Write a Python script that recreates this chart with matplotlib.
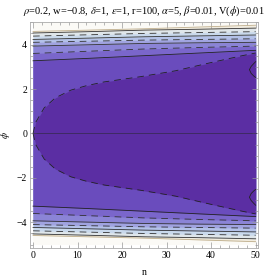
import numpy as np
import matplotlib
matplotlib.use("Agg")
import matplotlib.pyplot as plt
from matplotlib.ticker import MultipleLocator

plt.rcParams["font.family"] = ["Liberation Serif", "DejaVu Serif"]
plt.rcParams["mathtext.fontset"] = "stix"

# contour lines (upper half, mirrored below)
n_pts = [0, 12.5, 25, 37.5, 50]
line8 = [4.59, 4.65, 4.71, 4.79, 4.87]
line7 = [4.52, 4.58, 4.65, 4.69, 4.74]
line6 = [4.38, 4.44, 4.50, 4.54, 4.58]
line5 = [4.23, 4.29, 4.35, 4.39, 4.43]
line4 = [4.10, 4.15, 4.20, 4.23, 4.26]
line3 = [3.93, 3.99, 4.05, 4.08, 4.10]
line2 = [3.60, 3.70, 3.80, 3.87, 3.93]
line1 = [3.27, 3.38, 3.50, 3.62, 3.74]

# inner (parabola-like) contour
n_in = [0, 0.6, 2.5, 5, 8.5, 12, 16, 24, 32, 40, 47, 50]
phi_in = [0, 0.5, 1.15, 1.6, 1.95, 2.15, 2.32, 2.55, 2.82, 3.19, 3.5, 3.62]

# small closed contours touching the right edge
arc_n = [50, 49.6, 49.0, 48.6, 49.0, 49.6, 50]
arc_phi = [3.23, 3.15, 3.02, 2.87, 2.70, 2.58, 2.52]

lines = [line8, line7, line6, line5, line4, line3, line2, line1]
band_colors = ["#f1ecdf", "#dfe6ea", "#c9d9ec", "#b3c1e8", "#a0a3e0",
               "#8b84d6", "#7a66cb", "#6a4cbd"]
styles = ["-", "-", (0, (8, 6)), "-", (0, (8, 6)), "-", (0, (8, 6)), "-"]
line_cols = ["#bfae8c", "#333333", "#333333", "#333333", "#333333",
             "#333333", "#333333", "#222222"]
inner_color = "#5b2ea3"

fig = plt.figure(figsize=(2.77, 2.77), dpi=100)
ax = fig.add_axes([0.108, 0.105, 0.823, 0.816])

n_arr = np.array(n_pts)
ax.fill_between(n_arr, -5.0, 5.0, color="#fbfaf6", lw=0)
for ln, c in zip(lines, band_colors):
    y = np.array(ln)
    ax.fill_between(n_arr, -y, y, color=c, lw=0)
ni = np.array(n_in)
pi = np.array(phi_in)
ax.fill_between(ni, -pi, pi, color=inner_color, lw=0)

for ln, st, lc in zip(lines, styles, line_cols):
    y = np.array(ln)
    ax.plot(n_arr, y, color=lc, lw=0.6, linestyle=st)
    ax.plot(n_arr, -y, color=lc, lw=0.6, linestyle=st)
ax.plot(ni, pi, color="#222222", lw=0.6, linestyle=(0, (8, 6)))
ax.plot(ni, -pi, color="#222222", lw=0.6, linestyle=(0, (8, 6)))
ax.plot(arc_n, arc_phi, color="#222222", lw=0.6)
ax.plot(arc_n, [-v for v in arc_phi], color="#222222", lw=0.6)
ax.plot([0, 50], [0, 0], color="#3a2a5a", lw=0.6)

ax.set_xlim(-0.7, 50.5)
ax.set_ylim(-5.15, 5.02)
ax.xaxis.set_major_locator(MultipleLocator(10))
ax.xaxis.set_minor_locator(MultipleLocator(2))
ax.yaxis.set_major_locator(MultipleLocator(2))
ax.yaxis.set_minor_locator(MultipleLocator(0.5))
ax.tick_params(which="both", direction="in", top=True, right=True,
               color="#999999", labelsize=7, pad=2)
ax.tick_params(which="major", length=4, width=0.5)
ax.tick_params(which="minor", length=2, width=0.5)
for s in ax.spines.values():
    s.set_color("#aaaaaa")
    s.set_linewidth(0.6)

ax.set_yticklabels([])
ax.set_yticks([-4, -2, 0, 2, 4])
ax.set_yticklabels(["\u22124", "\u22122", "0", "2", "4"])
ax.set_xlabel("n", fontsize=7, labelpad=6)
ax.set_ylabel(r"$\phi$", fontsize=7, labelpad=3)
ax.set_title(r"$\rho$=0.2, w=\u22120.8, $\delta$=1, $\epsilon$=1, r=100, "
             r"$\alpha$=5, $\beta$=0.01, V($\phi$)=0.01".replace("\\u2212", "\u2212"),
             fontsize=7.5, pad=6)

fig.savefig("out.png", dpi=100)
